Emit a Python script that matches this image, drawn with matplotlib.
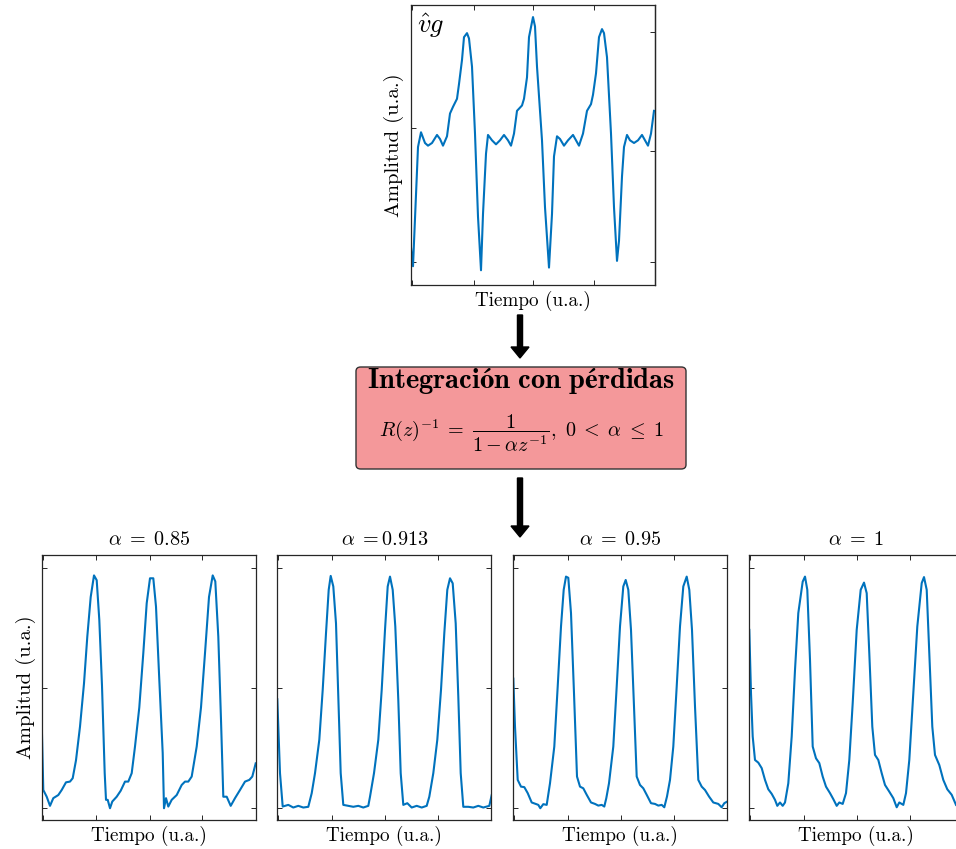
import matplotlib
matplotlib.use("Agg")
import matplotlib.pyplot as plt
from matplotlib.patches import FancyBboxPatch, FancyArrow

plt.rcParams["font.family"] = "serif"
plt.rcParams["font.serif"] = ["cmr10"]
plt.rcParams["mathtext.fontset"] = "cm"
plt.rcParams["axes.unicode_minus"] = False
plt.rcParams["axes.formatter.use_mathtext"] = True

BLUE = "#0072BD"
AXC = "#262626"

# derivada del flujo glotal estimada (v_g gorro)
vg_t = [0, 2, 7, 10, 14, 17, 21, 26, 29, 32, 36, 39, 42, 46, 48, 51, 53, 56, 58, 61,
        64, 67, 70, 72, 75, 77, 81, 85, 89, 93, 97, 100, 103, 106, 111, 113, 116,
        118, 122, 124, 126, 131, 134, 138, 141, 143, 146, 149, 153, 157, 162, 165,
        168, 172, 176, 180, 182, 185, 188, 191, 193, 196, 200, 203, 206, 208, 211,
        213, 216, 219, 223, 227, 231, 234, 237, 240, 243]
vg_a = [0.11, -0.03, 0.86, 0.97, 0.89, 0.87, 0.89, 0.95, 0.92, 0.87, 0.94, 1.11, 1.16,
        1.22, 1.33, 1.51, 1.68, 1.71, 1.67, 1.46, 0.96, 0.34, -0.06, 0.36, 0.81, 0.95,
        0.91, 0.88, 0.91, 0.95, 0.91, 0.87, 0.96, 1.13, 1.17, 1.22, 1.38, 1.68, 1.83,
        1.76, 1.46, 0.91, 0.41, -0.04, 0.36, 0.79, 0.94, 0.92, 0.87, 0.91, 0.95, 0.91,
        0.87, 0.96, 1.13, 1.18, 1.25, 1.41, 1.68, 1.74, 1.71, 1.53, 0.96, 0.41, 0.01,
        0.16, 0.64, 0.86, 0.95, 0.91, 0.89, 0.91, 0.95, 0.91, 0.87, 0.96, 1.13]

# salida del integrador con perdidas para cada alpha
t_085 = [0, 1.6, 5, 8.3, 11.6, 16.6, 20, 24.3, 28.3, 31, 34.3, 38.3, 42.3, 45.6, 49,
         52.3, 55, 57.6, 60.3, 63, 64.3, 66, 68.3, 70.6, 75, 79, 83.3, 86.6, 90, 93.3,
         97.6, 101.6, 105, 108.3, 111.6, 114.3, 117.6, 121, 122.3, 124.3, 126.6, 130,
         135, 140, 143.3, 146.6, 150, 155, 159.3, 163.3, 167.3, 171, 173.6, 176.6,
         179.3, 181.6, 185, 189, 193.3, 198.3, 203.3, 207.6, 210.6, 214]
a_085 = [0.36, 0.076, 0.048, 0.01, 0.042, 0.055, 0.076, 0.108, 0.111, 0.125, 0.2, 0.34,
         0.52, 0.715, 0.88, 0.97, 0.95, 0.785, 0.51, 0.146, 0.035, 0.035, 0.0, 0.028,
         0.048, 0.073, 0.111, 0.111, 0.146, 0.257, 0.42, 0.646, 0.854, 0.958, 0.958,
         0.84, 0.535, 0.23, 0.0, 0.042, 0.007, 0.035, 0.055, 0.097, 0.111, 0.111,
         0.132, 0.257, 0.42, 0.646, 0.88, 0.97, 0.945, 0.715, 0.368, 0.048, 0.048,
         0.01, 0.042, 0.076, 0.111, 0.118, 0.132, 0.187]

t_0913 = [0, 2.7, 5.4, 11, 16, 21, 26, 31, 34.4, 37.7, 42, 45.4, 48.7, 51.4, 53.4, 56,
          58.7, 61, 63.4, 66, 71, 76, 81, 86, 91, 92.7, 96.7, 101, 104.4, 107.7, 110.4,
          112.7, 115.4, 118, 121, 123.4, 126, 130, 134.4, 139.4, 144.4, 149.4, 152, 156,
          160, 163.7, 167, 170, 172.7, 175.4, 178.4, 181, 183.4, 186, 191, 196, 201,
          206, 212, 214.4]
a_0913 = [0.454, 0.146, 0.007, 0.014, 0.003, 0.01, 0.003, 0.006, 0.0625, 0.146, 0.285,
          0.493, 0.729, 0.91, 0.968, 0.924, 0.77, 0.465, 0.146, 0.014, 0.01, 0.006,
          0.01, 0.003, 0.01, 0.048, 0.146, 0.285, 0.493, 0.743, 0.924, 0.965, 0.91,
          0.757, 0.451, 0.146, 0.014, 0.021, 0.003, 0.01, 0.003, 0.01, 0.048, 0.146,
          0.285, 0.493, 0.729, 0.91, 0.958, 0.937, 0.77, 0.465, 0.146, 0.006, 0.006,
          0.003, 0.01, 0.003, 0.01, 0.055]

t_095 = [0, 1.7, 4.4, 7.7, 11, 14.4, 18.4, 22.4, 25, 27, 30, 33.4, 36.7, 41, 44.4, 47.7,
         50.4, 52.7, 55, 57.7, 60.7, 63.7, 66.7, 70, 73.4, 77.7, 81.7, 85, 88.4, 91, 93,
         95.7, 100, 103.4, 106.7, 110, 112.4, 115, 117.7, 120.7, 123.4, 126.7, 130,
         133.4, 137.7, 141.7, 145, 148.4, 151, 153.7, 156.7, 160, 163.4, 166.7, 170,
         173.4, 176, 178.7, 181.7, 185, 188.4, 191.7, 195.7, 200, 205, 208.4, 211, 214]
a_095 = [0.54, 0.34, 0.118, 0.09, 0.088, 0.063, 0.024, 0.018, 0.014, 0.0, 0.017, 0.014,
         0.104, 0.257, 0.507, 0.757, 0.91, 0.965, 0.96, 0.813, 0.479, 0.132, 0.09,
         0.083, 0.056, 0.024, 0.018, 0.011, 0.014, 0.007, 0.042, 0.104, 0.257, 0.507,
         0.757, 0.924, 0.951, 0.91, 0.743, 0.424, 0.132, 0.097, 0.083, 0.056, 0.021,
         0.018, 0.011, 0.014, 0.004, 0.049, 0.118, 0.257, 0.507, 0.757, 0.924, 0.965,
         0.91, 0.743, 0.424, 0.118, 0.09, 0.076, 0.049, 0.024, 0.018, 0.004, 0.021,
         0.028]

t_1 = [0, 1.7, 3.4, 5.7, 9, 12.4, 15.7, 19, 22.4, 25.7, 28, 30.7, 33.4, 35.7, 39, 42.4,
       45.7, 49, 53.4, 55.7, 58, 60.7, 63.4, 66.7, 70, 73.4, 76.7, 80.7, 84, 87.4, 90,
       93.4, 96.7, 100, 103.4, 107.4, 111.4, 114.7, 117.4, 120, 123, 125.7, 129, 132.4,
       135.7, 140, 144, 147.4, 150, 154, 156.7, 160, 164, 168, 172.4, 174.7, 177.4, 180,
       183, 185.7, 190, 194, 198, 202.4, 206.7]
a_1 = [0.743, 0.479, 0.299, 0.201, 0.19, 0.167, 0.118, 0.079, 0.06, 0.035, 0.01, 0.024,
       0.01, 0.024, 0.104, 0.299, 0.576, 0.813, 0.944, 0.965, 0.91, 0.618, 0.257, 0.208,
       0.188, 0.132, 0.09, 0.063, 0.038, 0.01, 0.024, 0.018, 0.063, 0.201, 0.438, 0.743,
       0.91, 0.94, 0.896, 0.646, 0.34, 0.222, 0.201, 0.146, 0.097, 0.069, 0.042, 0.004,
       0.024, 0.014, 0.063, 0.201, 0.479, 0.757, 0.938, 0.963, 0.91, 0.646, 0.34, 0.222,
       0.18, 0.118, 0.079, 0.056, 0.014]

alpha_labels = [r"$\alpha\;=\;0.85$", r"$\alpha\;=$0.913", r"$\alpha\;=\;0.95$",
                r"$\alpha\;=\;1$"]
series_t = [t_085, t_0913, t_095, t_1]
series_a = [a_085, a_0913, a_095, a_1]

W, H = 956, 849
fig = plt.figure(figsize=(W / 100, H / 100), dpi=100)


def style(ax):
    for s in ax.spines.values():
        s.set_color(AXC)
        s.set_linewidth(0.9)
    ax.tick_params(direction="in", length=3.5, width=0.7, colors=AXC,
                   labelleft=False, labelbottom=False)
    ax.set_facecolor("white")


# senal de entrada
ax0 = fig.add_axes([411 / W, 1 - 285 / H, 244 / W, 280 / H])
ax0.plot(vg_t, vg_a, color=BLUE, lw=1.5)
ax0.set_xlim(0, 244)
ax0.set_ylim(-0.17, 1.92)
ax0.set_xticks([1, 63, 122, 183])
ax0.set_yticks([0, 1])
style(ax0)
ax0.tick_params(top=True, right=False)
sec = ax0.secondary_yaxis("right")
sec.set_yticks([0, 0.83, 1.72])
sec.tick_params(direction="in", length=3.5, width=0.7, colors=AXC, labelright=False)
sec.spines["right"].set_color(AXC)
sec.spines["right"].set_linewidth(0.9)
ax0.set_xlabel("Tiempo (u.a.)", fontsize=13.8, labelpad=4)
ax0.set_ylabel("Amplitud (u.a.)", fontsize=15, labelpad=5)
ax0.text(0.025, 0.975, r"$\hat{v}g$", transform=ax0.transAxes, fontsize=19,
         ha="left", va="top")

# bloque del integrador
box = FancyBboxPatch((356 / W, 1 - 469 / H), 330 / W, 102 / H,
                     boxstyle="round,pad=0,rounding_size=0.005",
                     transform=fig.transFigure, facecolor="#f4989a",
                     edgecolor="#333333", linewidth=1.0)
fig.add_artist(box)
fig.text(521 / W, 1 - 381 / H, r"$\mathbf{Integración\ con\ pérdidas}$",
         fontsize=20.5, ha="center", va="center")
fig.text(521 / W, 1 - 433 / H,
         r"$R(z)^{-1}\;=\;\dfrac{1}{1-\alpha z^{-1}},\ 0\;<\;\alpha\;\leq\;1$",
         fontsize=14.5, ha="center", va="center")

for y0, y1 in [(315, 358), (478, 537)]:
    fig.add_artist(FancyArrow(520 / W, 1 - y0 / H, 0, -(y1 - y0) / H,
                              width=4.5 / H, head_width=18 / W, head_length=11 / H,
                              length_includes_head=True, color="black",
                              transform=fig.transFigure))

# salidas para cada alpha
lefts = [41.7, 277.3, 513.3, 749.3]
for i, (lab, ts, vs) in enumerate(zip(alpha_labels, series_t, series_a)):
    ax = fig.add_axes([lefts[i] / W, 1 - 820 / H, 214 / W, 265 / H])
    ax.plot(ts, vs, color=BLUE, lw=1.5)
    ax.set_xlim(0, 214)
    ax.set_ylim(-0.049, 1.055)
    ax.set_xticks([1, 54.3, 108, 160.6])
    ax.set_yticks([0, 0.5, 1])
    style(ax)
    ax.tick_params(top=True, right=True)
    ax.set_title(lab, fontsize=14.5, pad=7)
    ax.set_xlabel("Tiempo (u.a.)", fontsize=13.8, labelpad=4)
    if i == 0:
        ax.set_ylabel("Amplitud (u.a.)", fontsize=15, labelpad=4)

fig.savefig("out.png", dpi=100)
